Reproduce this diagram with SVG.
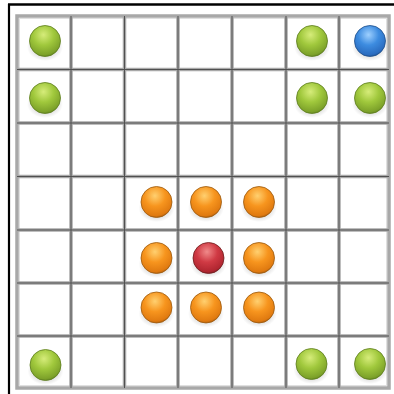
<svg xmlns="http://www.w3.org/2000/svg" width="394" height="394" viewBox="0 0 394 394">
<defs>
<radialGradient id="gGreen" cx="0.45" cy="0.3" r="0.75">
<stop offset="0" stop-color="#d6ec7a"/>
<stop offset="0.45" stop-color="#a0c83c"/>
<stop offset="0.85" stop-color="#7da22a"/>
<stop offset="1" stop-color="#5a7a1c"/>
</radialGradient>
<radialGradient id="gOrange" cx="0.45" cy="0.3" r="0.75">
<stop offset="0" stop-color="#ffd070"/>
<stop offset="0.45" stop-color="#f7951e"/>
<stop offset="0.85" stop-color="#e07a10"/>
<stop offset="1" stop-color="#9a520a"/>
</radialGradient>
<radialGradient id="gRed" cx="0.45" cy="0.3" r="0.75">
<stop offset="0" stop-color="#f08a8a"/>
<stop offset="0.45" stop-color="#d03a44"/>
<stop offset="0.85" stop-color="#b02630"/>
<stop offset="1" stop-color="#701820"/>
</radialGradient>
<radialGradient id="gBlue" cx="0.45" cy="0.3" r="0.75">
<stop offset="0" stop-color="#9ed0ff"/>
<stop offset="0.45" stop-color="#3d8ce0"/>
<stop offset="0.85" stop-color="#2a6cc0"/>
<stop offset="1" stop-color="#1a4a88"/>
</radialGradient>
<radialGradient id="gShadow" cx="0.5" cy="0.5" r="0.5">
<stop offset="0" stop-color="#000" stop-opacity="0.35"/>
<stop offset="1" stop-color="#000" stop-opacity="0"/>
</radialGradient>
<g id="shadow"><ellipse cx="0" cy="6" rx="18" ry="14" fill="url(#gShadow)"/></g>
</defs>
<style>
.gl{stroke:#a8a8a8;stroke-width:3.5;fill:none}
.gc{stroke:#505050;stroke-width:1;fill:none}
.frame{stroke:#000;fill:none}
.ball{stroke-width:0.8}
.green{fill:url(#gGreen);stroke:#5e7d20}
.orange{fill:url(#gOrange);stroke:#9a5a10}
.red{fill:url(#gRed);stroke:#702020}
.blue{fill:url(#gBlue);stroke:#1f4f8a}
</style>
<rect width="394" height="394" fill="#fff"/>
<g id="frame">
<line class="frame" x1="9" y1="4" x2="9" y2="394" stroke-width="2.2"/>
<line class="frame" x1="8" y1="4.5" x2="394" y2="4.5" stroke-width="2.5"/>
</g>
<g id="grid">
<rect x="17" y="16" width="372" height="372" class="gl"/>
<rect x="19.5" y="18.5" width="367" height="367" fill="none" stroke="#e0e0e0" stroke-width="1"/>
<g class="gl">
<line x1="71" y1="16" x2="71" y2="388"/>
<line x1="124.5" y1="16" x2="124.5" y2="388"/>
<line x1="178" y1="16" x2="178" y2="388"/>
<line x1="232" y1="16" x2="232" y2="388"/>
<line x1="286" y1="16" x2="286" y2="388"/>
<line x1="339" y1="16" x2="339" y2="388"/>
<line x1="17" y1="69.5" x2="389" y2="69.5"/>
<line x1="17" y1="123" x2="389" y2="123"/>
<line x1="17" y1="176.5" x2="389" y2="176.5"/>
<line x1="17" y1="230" x2="389" y2="230"/>
<line x1="17" y1="283" x2="389" y2="283"/>
<line x1="17" y1="336" x2="389" y2="336"/>
</g>
<g class="gc">
<line x1="71" y1="16" x2="71" y2="388"/>
<line x1="124.5" y1="16" x2="124.5" y2="388"/>
<line x1="178" y1="16" x2="178" y2="388"/>
<line x1="232" y1="16" x2="232" y2="388"/>
<line x1="286" y1="16" x2="286" y2="388"/>
<line x1="339" y1="16" x2="339" y2="388"/>
<line x1="17" y1="69.5" x2="389" y2="69.5"/>
<line x1="17" y1="123" x2="389" y2="123"/>
<line x1="17" y1="176.5" x2="389" y2="176.5"/>
<line x1="17" y1="230" x2="389" y2="230"/>
<line x1="17" y1="283" x2="389" y2="283"/>
<line x1="17" y1="336" x2="389" y2="336"/>
</g>
</g>
<g id="balls">
<g id="b1" transform="translate(45,41)"><use href="#shadow"/><circle class="ball green" r="15.5"/></g>
<g id="b2" transform="translate(312,41)"><use href="#shadow"/><circle class="ball green" r="15.5"/></g>
<g id="b3" transform="translate(370,41)"><use href="#shadow"/><circle class="ball blue" r="15.5"/></g>
<g id="b4" transform="translate(45,98)"><use href="#shadow"/><circle class="ball green" r="15.5"/></g>
<g id="b5" transform="translate(312,98)"><use href="#shadow"/><circle class="ball green" r="15.5"/></g>
<g id="b6" transform="translate(370,98)"><use href="#shadow"/><circle class="ball green" r="15.5"/></g>
<g id="b7" transform="translate(156.5,202)"><use href="#shadow"/><circle class="ball orange" r="15.5"/></g>
<g id="b8" transform="translate(206,202)"><use href="#shadow"/><circle class="ball orange" r="15.5"/></g>
<g id="b9" transform="translate(259,202)"><use href="#shadow"/><circle class="ball orange" r="15.5"/></g>
<g id="b10" transform="translate(156.5,258)"><use href="#shadow"/><circle class="ball orange" r="15.5"/></g>
<g id="b11" transform="translate(208.5,258)"><use href="#shadow"/><circle class="ball red" r="15.5"/></g>
<g id="b12" transform="translate(259,258)"><use href="#shadow"/><circle class="ball orange" r="15.5"/></g>
<g id="b13" transform="translate(156.5,307.5)"><use href="#shadow"/><circle class="ball orange" r="15.5"/></g>
<g id="b14" transform="translate(206,307.5)"><use href="#shadow"/><circle class="ball orange" r="15.5"/></g>
<g id="b15" transform="translate(259,307.5)"><use href="#shadow"/><circle class="ball orange" r="15.5"/></g>
<g id="b16" transform="translate(45.5,365)"><use href="#shadow"/><circle class="ball green" r="15.5"/></g>
<g id="b17" transform="translate(311.5,364)"><use href="#shadow"/><circle class="ball green" r="15.5"/></g>
<g id="b18" transform="translate(370,364)"><use href="#shadow"/><circle class="ball green" r="15.5"/></g>
</g>
</svg>
